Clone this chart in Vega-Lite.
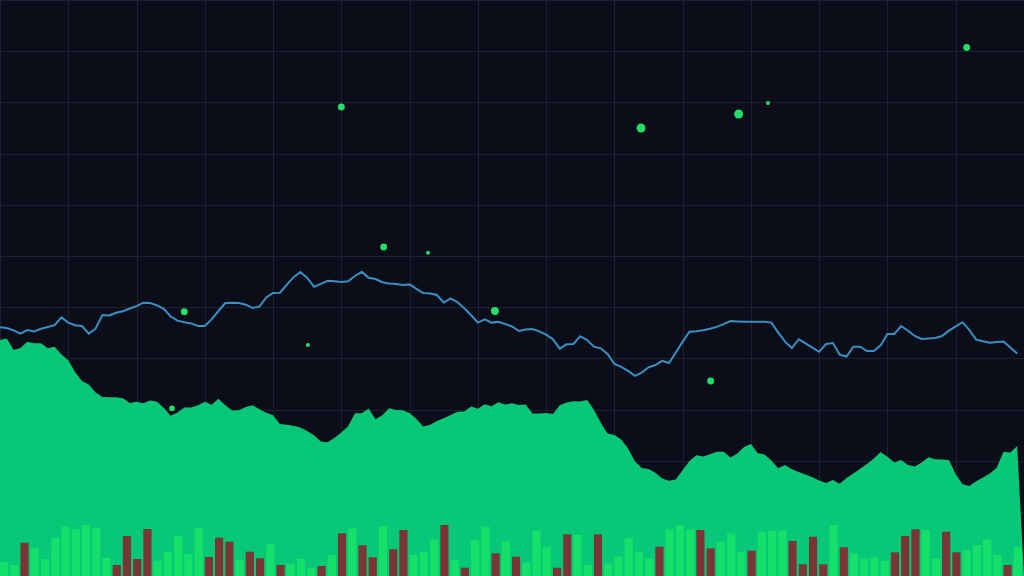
{
  "$schema": "https://vega.github.io/schema/vega-lite/v6.json",
  "width": 1024,
  "height": 576,
  "padding": 0,
  "autosize": {"type": "none"},
  "background": "#0b0e18",
  "config": {
    "view": {"stroke": null, "fill": "#0b0e18"},
    "axis": {"grid": true, "gridColor": "#1c2230", "gridWidth": 1, "labels": false, "ticks": false, "domain": false, "title": null}
  },
  "datasets": {
    "series": [
      {"i":0,"p":248.7,"d":236},{"i":1,"p":248,"d":237.4},{"i":2,"p":245.6,"d":226},{"i":3,"p":242.3,"d":228},{"i":4,"p":246,"d":234.2},
      {"i":5,"p":244.6,"d":232.7},{"i":6,"p":247.3,"d":232.7},{"i":7,"p":249,"d":227.8},{"i":8,"p":250.8,"d":229.2},{"i":9,"p":258.6,"d":221.6},
      {"i":10,"p":253.4,"d":215.8},{"i":11,"p":250.7,"d":204},{"i":12,"p":250,"d":194.9},{"i":13,"p":242.4,"d":191.4},{"i":14,"p":247.3,"d":183.6},
      {"i":15,"p":261,"d":179},{"i":16,"p":260.5,"d":178.8},{"i":17,"p":263.2,"d":178.8},{"i":18,"p":264.7,"d":177.7},{"i":19,"p":267.5,"d":172.9},
      {"i":20,"p":269.8,"d":174.2},{"i":21,"p":273.3,"d":172.8},{"i":22,"p":273,"d":175.6},{"i":23,"p":270.7,"d":174.3},{"i":24,"p":267.1,"d":168},
      {"i":25,"p":259.5,"d":160.2},{"i":26,"p":255.4,"d":163.6},{"i":27,"p":253.7,"d":168.4},{"i":28,"p":252.6,"d":168.4},{"i":29,"p":250,"d":170.7},
      {"i":30,"p":250,"d":174.2},{"i":31,"p":256.6,"d":171.2},{"i":32,"p":265,"d":177.2},{"i":33,"p":273,"d":170.8},{"i":34,"p":273.2,"d":165.6},
      {"i":35,"p":273,"d":165.8},{"i":36,"p":271.3,"d":168.9},{"i":37,"p":268,"d":170.7},{"i":38,"p":269.4,"d":166.8},{"i":39,"p":278.5,"d":163.3},
      {"i":40,"p":283,"d":160.7},{"i":41,"p":283.3,"d":152},{"i":42,"p":291.2,"d":151.3},{"i":43,"p":298.8,"d":150.2},{"i":44,"p":304,"d":148.6},
      {"i":45,"p":298,"d":145.1},{"i":46,"p":289.3,"d":140.7},{"i":47,"p":292.2,"d":134.5},{"i":48,"p":295.2,"d":133.7},{"i":49,"p":294.7,"d":138.2},
      {"i":50,"p":294,"d":143.5},{"i":51,"p":294.8,"d":149.7},{"i":52,"p":300,"d":162.7},{"i":53,"p":304.2,"d":162.7},{"i":54,"p":298.3,"d":167.4},
      {"i":55,"p":297,"d":156.8},{"i":56,"p":293.8,"d":160.7},{"i":57,"p":292.4,"d":167.7},{"i":58,"p":292,"d":166},{"i":59,"p":291,"d":165.8},
      {"i":60,"p":291.6,"d":163.1},{"i":61,"p":287.2,"d":157},{"i":62,"p":283,"d":149.4},{"i":63,"p":282.5,"d":151.2},{"i":64,"p":281,"d":154.9},
      {"i":65,"p":273.5,"d":157.7},{"i":66,"p":277.7,"d":160.9},{"i":67,"p":274,"d":164.3},{"i":68,"p":267.8,"d":164.5},{"i":69,"p":261,"d":169.6},
      {"i":70,"p":253.4,"d":167.2},{"i":71,"p":256.6,"d":171.8},{"i":72,"p":253.4,"d":169.8},{"i":73,"p":254.2,"d":173.8},{"i":74,"p":252,"d":171.5},
      {"i":75,"p":249.5,"d":172.7},{"i":76,"p":245,"d":171},{"i":77,"p":246.5,"d":171.6},{"i":78,"p":247,"d":162.4},{"i":79,"p":244.6,"d":162.4},
      {"i":80,"p":241.4,"d":163.1},{"i":81,"p":236.7,"d":162},{"i":82,"p":227.3,"d":170.7},{"i":83,"p":231.7,"d":173.4},{"i":84,"p":232,"d":174.8},
      {"i":85,"p":239.8,"d":174.5},{"i":86,"p":235.9,"d":176},{"i":87,"p":229.4,"d":166.3},{"i":88,"p":227.7,"d":153.2},{"i":89,"p":222,"d":142.6},
      {"i":90,"p":212,"d":141.1},{"i":91,"p":209.2,"d":136.6},{"i":92,"p":205.1,"d":127.4},{"i":93,"p":200.1,"d":114.7},{"i":94,"p":203.4,"d":108.1},
      {"i":95,"p":208.7,"d":106.9},{"i":96,"p":211,"d":103.2},{"i":97,"p":215.2,"d":97.5},{"i":98,"p":213,"d":95.3},{"i":99,"p":223.5,"d":96.4},
      {"i":100,"p":234.4,"d":106},{"i":101,"p":244.3,"d":114.9},{"i":102,"p":244.8,"d":120.8},{"i":103,"p":245.8,"d":119.6},{"i":104,"p":247.3,"d":121.8},
      {"i":105,"p":249.1,"d":124.3},{"i":106,"p":251.8,"d":124.3},{"i":107,"p":255,"d":118.4},{"i":108,"p":254.6,"d":122.5},{"i":109,"p":254.3,"d":129},
      {"i":110,"p":254.3,"d":132},{"i":111,"p":254.3,"d":122.7},{"i":112,"p":254.3,"d":121.6},{"i":113,"p":253.4,"d":115.5},{"i":114,"p":243.4,"d":107.8},
      {"i":115,"p":234.3,"d":111},{"i":116,"p":228,"d":106.7},{"i":117,"p":236.8,"d":104},{"i":118,"p":232.7,"d":101.5},{"i":119,"p":228.3,"d":98.7},
      {"i":120,"p":224.2,"d":95.4},{"i":121,"p":232,"d":93.1},{"i":122,"p":233,"d":96},{"i":123,"p":221.4,"d":92.2},{"i":124,"p":219.5,"d":98},
      {"i":125,"p":229.3,"d":102.6},{"i":126,"p":229.3,"d":107.2},{"i":127,"p":225,"d":112},{"i":128,"p":225,"d":117.4},{"i":129,"p":230.7,"d":124},
      {"i":130,"p":242,"d":119.2},{"i":131,"p":242.1,"d":113.5},{"i":132,"p":250,"d":115.9},{"i":133,"p":245.3,"d":111},{"i":134,"p":240,"d":109.5},
      {"i":135,"p":237,"d":113.4},{"i":136,"p":237.5,"d":118.8},{"i":137,"p":238,"d":116.7},{"i":138,"p":240,"d":116.4},{"i":139,"p":245.4,"d":116},
      {"i":140,"p":249.7,"d":101.7},{"i":141,"p":253.8,"d":91.8},{"i":142,"p":245.8,"d":90.1},{"i":143,"p":236.4,"d":94.8},{"i":144,"p":234.7,"d":98.5},
      {"i":145,"p":233.3,"d":102.4},{"i":146,"p":234.1,"d":108.2},{"i":147,"p":234.5,"d":124.2},{"i":148,"p":228.5,"d":123.6},{"i":149,"p":222.6,"d":130},
      {"i":150,"d":0}
    ],
    "volume": [
      {"b":0,"v":14,"dir":"up"},{"b":1,"v":11,"dir":"up"},{"b":2,"v":33.3,"dir":"down"},{"b":3,"v":28,"dir":"up"},{"b":4,"v":17,"dir":"up"},
      {"b":5,"v":38.3,"dir":"up"},{"b":6,"v":49.3,"dir":"up"},{"b":7,"v":47,"dir":"up"},{"b":8,"v":51,"dir":"up"},{"b":9,"v":48,"dir":"up"},
      {"b":10,"v":18,"dir":"up"},{"b":11,"v":11,"dir":"down"},{"b":12,"v":40,"dir":"down"},{"b":13,"v":17,"dir":"down"},{"b":14,"v":47,"dir":"down"},
      {"b":15,"v":15.3,"dir":"up"},{"b":16,"v":24.3,"dir":"up"},{"b":17,"v":40,"dir":"up"},{"b":18,"v":22,"dir":"up"},{"b":19,"v":48,"dir":"up"},
      {"b":20,"v":19,"dir":"down"},{"b":21,"v":38.3,"dir":"down"},{"b":22,"v":34.3,"dir":"down"},{"b":23,"v":16,"dir":"up"},{"b":24,"v":24.3,"dir":"down"},
      {"b":25,"v":17.7,"dir":"down"},{"b":26,"v":32,"dir":"up"},{"b":27,"v":11,"dir":"down"},{"b":28,"v":12,"dir":"up"},{"b":29,"v":17.3,"dir":"up"},
      {"b":30,"v":8,"dir":"up"},{"b":31,"v":10,"dir":"down"},{"b":32,"v":21,"dir":"up"},{"b":33,"v":42.7,"dir":"down"},{"b":34,"v":47.7,"dir":"up"},
      {"b":35,"v":30.7,"dir":"down"},{"b":36,"v":18.7,"dir":"down"},{"b":37,"v":50,"dir":"up"},{"b":38,"v":26.7,"dir":"down"},{"b":39,"v":46,"dir":"down"},
      {"b":40,"v":21,"dir":"up"},{"b":41,"v":24.3,"dir":"up"},{"b":42,"v":36.7,"dir":"up"},{"b":43,"v":51,"dir":"down"},{"b":44,"v":16,"dir":"up"},
      {"b":45,"v":8.3,"dir":"down"},{"b":46,"v":36,"dir":"up"},{"b":47,"v":49.3,"dir":"up"},{"b":48,"v":22.7,"dir":"down"},{"b":49,"v":34.3,"dir":"up"},
      {"b":50,"v":19.3,"dir":"down"},{"b":51,"v":13.3,"dir":"up"},{"b":52,"v":45.3,"dir":"up"},{"b":53,"v":29.3,"dir":"up"},{"b":54,"v":8.3,"dir":"down"},
      {"b":55,"v":41.7,"dir":"down"},{"b":56,"v":41,"dir":"up"},{"b":57,"v":11,"dir":"up"},{"b":58,"v":41.7,"dir":"down"},{"b":59,"v":12.7,"dir":"up"},
      {"b":60,"v":19.3,"dir":"up"},{"b":61,"v":37.7,"dir":"up"},{"b":62,"v":24.3,"dir":"up"},{"b":63,"v":17.7,"dir":"up"},{"b":64,"v":29.3,"dir":"down"},
      {"b":65,"v":46.7,"dir":"up"},{"b":66,"v":51,"dir":"up"},{"b":67,"v":46.7,"dir":"up"},{"b":68,"v":46,"dir":"down"},{"b":69,"v":27.7,"dir":"down"},
      {"b":70,"v":34.3,"dir":"up"},{"b":71,"v":42.7,"dir":"up"},{"b":72,"v":24.3,"dir":"up"},{"b":73,"v":25.3,"dir":"down"},{"b":74,"v":44.3,"dir":"up"},
      {"b":75,"v":45.3,"dir":"up"},{"b":76,"v":45.3,"dir":"up"},{"b":77,"v":35,"dir":"down"},{"b":78,"v":11.7,"dir":"down"},{"b":79,"v":39.3,"dir":"down"},
      {"b":80,"v":11.7,"dir":"down"},{"b":81,"v":51,"dir":"up"},{"b":82,"v":28.7,"dir":"down"},{"b":83,"v":22.7,"dir":"up"},{"b":84,"v":17.7,"dir":"up"},
      {"b":85,"v":18.7,"dir":"up"},{"b":86,"v":15.3,"dir":"up"},{"b":87,"v":23.7,"dir":"down"},{"b":88,"v":40,"dir":"down"},{"b":89,"v":46.7,"dir":"down"},
      {"b":90,"v":46,"dir":"up"},{"b":91,"v":17.7,"dir":"up"},{"b":92,"v":44.3,"dir":"down"},{"b":93,"v":23.7,"dir":"down"},{"b":94,"v":26,"dir":"up"},
      {"b":95,"v":31,"dir":"up"},{"b":96,"v":36.7,"dir":"up"},{"b":97,"v":21,"dir":"up"},{"b":98,"v":11,"dir":"down"},{"b":99,"v":29.3,"dir":"up"}
    ],
    "events": [
      {"x":50,"y":469,"m":3},{"x":56.2,"y":329,"m":3},{"x":62.7,"y":323.3,"m":1},{"x":27,"y":264.3,"m":3},
      {"x":45.1,"y":231,"m":1},{"x":25.2,"y":167.7,"m":2},{"x":72.5,"y":265,"m":4},{"x":93.9,"y":448,"m":5},
      {"x":108.2,"y":462,"m":5},{"x":112.5,"y":473,"m":1},{"x":141.6,"y":528.5,"m":3},{"x":104.1,"y":195,"m":3}
    ]
  },
  "layer": [
    {
      "layer": [
        {
          "data": {"name": "series"},
          "mark": {"type": "area", "color": "#08c878", "opacity": 1},
          "encoding": {
            "x": {"field": "i", "type": "quantitative", "scale": {"domain": [0, 150], "nice": false}, "axis": {"values": [0,10,20,30,40,50,60,70,80,90,100,110,120,130,140,150]}},
            "y": {"field": "d", "type": "quantitative", "scale": {"domain": [0, 576], "nice": false, "zero": false}, "axis": {"values": [12.8,64,115.2,166.4,217.6,268.8,320,371.2,422.4,473.6,524.8,576]}}
          }
        },
        {
          "data": {"name": "series"},
          "mark": {"type": "line", "color": "#3a8fc4", "strokeWidth": 2},
          "encoding": {
            "x": {"field": "i", "type": "quantitative"},
            "y": {"field": "p", "type": "quantitative"}
          }
        },
        {
          "data": {"name": "events"},
          "mark": {"type": "circle", "color": "#22dd66", "opacity": 1},
          "encoding": {
            "x": {"field": "x", "type": "quantitative"},
            "y": {"field": "y", "type": "quantitative"},
            "size": {"field": "m", "type": "quantitative", "scale": {"type": "linear", "domain": [0, 5], "range": [0, 80], "zero": true}, "legend": null}
          }
        }
      ]
    },
    {
      "data": {"name": "volume"},
      "mark": {"type": "bar"},
      "encoding": {
        "x": {"field": "b", "type": "ordinal", "sort": null, "scale": {"paddingInner": 0.2, "paddingOuter": 0.1, "align": 0}, "axis": null},
        "y": {"field": "v", "type": "quantitative"},
        "color": {"field": "dir", "type": "nominal", "scale": {"domain": ["up", "down"], "range": ["#14e06a", "#7a3535"]}, "legend": null}
      }
    }
  ],
  "resolve": {"scale": {"x": "independent"}}
}
